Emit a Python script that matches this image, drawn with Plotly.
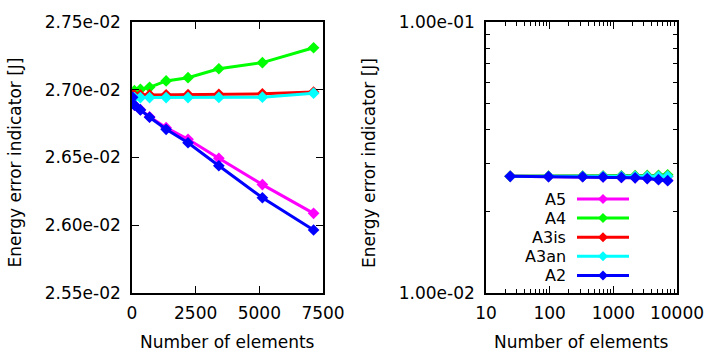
import plotly.graph_objects as go

# ---- data ----
n_elements = [24, 96, 330, 690, 1340, 2200, 3410, 5120, 7130]
series_names = ["A5", "A4", "A3is", "A3an", "A2"]
A5 = [0.026945, 0.026886, 0.026853, 0.026800, 0.026720, 0.026634, 0.026494, 0.026300, 0.026088]
A4 = [0.026965, 0.026993, 0.027003, 0.027018, 0.027065, 0.027089, 0.027155, 0.027200, 0.027310]
A3is = [0.026958, 0.026960, 0.026961, 0.026962, 0.026963, 0.026964, 0.026966, 0.026970, 0.026983]
A3an = [0.026942, 0.026942, 0.026942, 0.026942, 0.026942, 0.026942, 0.026943, 0.026945, 0.026975]
A2 = [0.026944, 0.026887, 0.026851, 0.026797, 0.026708, 0.026609, 0.026439, 0.026203, 0.025965]
series_values = [A5, A4, A3is, A3an, A2]
colors = ["#ff00ff", "#00ff00", "#ff0000", "#00ffff", "#0000ff"]

lin_yticks = [0.0255, 0.0260, 0.0265, 0.0270, 0.0275]
lin_yticktext = ["2.55e-02", "2.60e-02", "2.65e-02", "2.70e-02", "2.75e-02"]
lin_xticks = [0, 2500, 5000, 7500]
log_xticks = [10, 100, 1000, 10000]
log_xticktext = ["10", "100", "1000", "10000"]
log_x_minor = [20, 30, 40, 50, 60, 70, 80, 90, 200, 300, 400, 500, 600, 700, 800, 900,
               2000, 3000, 4000, 5000, 6000, 7000, 8000, 9000]
log_yticks = [0.01, 0.1]
log_yticktext = ["1.00e-02", "1.00e-01"]
log_y_minor = [0.02, 0.03, 0.04, 0.05, 0.06, 0.07, 0.08, 0.09]

W, H = 709, 355
FONT = "DejaVu Sans"
FS = 17


def px(x):
    return x / W


def py(y):
    return 1 - y / H


fig = go.Figure(layout=dict(template="none"))
for name, vals, col in zip(series_names, series_values, colors):
    for xa, ya in (("x", "y"), ("x2", "y2")):
        fig.add_trace(go.Scatter(
            x=n_elements, y=vals, mode="lines+markers", name=name,
            xaxis=xa, yaxis=ya, showlegend=False,
            line=dict(color=col, width=3),
            marker=dict(symbol="diamond", size=9, color=col),
        ))

axis_common = dict(
    showline=True, linecolor="black", linewidth=1.5, mirror="ticks",
    ticks="inside", ticklen=7, tickwidth=1, tickcolor="black",
    showgrid=False, zeroline=False, automargin=False,
    tickfont=dict(family=FONT, size=FS, color="black"),
)


def minor(vals):
    return dict(tickmode="array", tickvals=vals, ticks="inside", ticklen=4,
                tickwidth=1, tickcolor="black", showgrid=False)


ydom = [py(293), py(22)]
fig.update_layout(
    width=W, height=H, autosize=False,
    margin=dict(l=0, r=0, t=0, b=0, pad=0),
    paper_bgcolor="white", plot_bgcolor="white",
    font=dict(family=FONT, size=FS, color="black"),
    xaxis=dict(domain=[px(132), px(323)], range=[0, 7500], tickvals=lin_xticks,
               ticklabelstandoff=4, anchor="y", **axis_common),
    yaxis=dict(domain=ydom, range=[0.0255, 0.0275], tickvals=lin_yticks,
               ticktext=lin_yticktext, ticklabelstandoff=6, anchor="x", **axis_common),
    xaxis2=dict(domain=[px(486), px(677)], type="log", range=[1, 4],
                tickvals=log_xticks, ticktext=log_xticktext, ticklabelstandoff=4,
                minor=minor(log_x_minor), anchor="y2", **axis_common),
    yaxis2=dict(domain=ydom, type="log", range=[-2, -1],
                tickvals=log_yticks, ticktext=log_yticktext, ticklabelstandoff=6,
                minor=minor(log_y_minor), anchor="x2", **axis_common),
)

annotations = [
    dict(text="Number of elements", x=px(227.5), y=py(341.5), xref="paper", yref="paper",
         showarrow=False, xanchor="center", yanchor="middle", font=dict(family=FONT, size=FS)),
    dict(text="Number of elements", x=px(581.5), y=py(341.5), xref="paper", yref="paper",
         showarrow=False, xanchor="center", yanchor="middle", font=dict(family=FONT, size=FS)),
    dict(text="Energy error indicator [J]", x=px(14.5), y=py(163), xref="paper", yref="paper",
         showarrow=False, textangle=-90, xanchor="center", yanchor="middle",
         font=dict(family=FONT, size=FS)),
    dict(text="Energy error indicator [J]", x=px(369), y=py(163), xref="paper", yref="paper",
         showarrow=False, textangle=-90, xanchor="center", yanchor="middle",
         font=dict(family=FONT, size=FS)),
]

shapes = []
row_y = [199, 218.1, 237.2, 256.3, 275.4]
for name, col, ry in zip(series_names, colors, row_y):
    annotations.append(dict(text=name, x=px(567), y=py(ry), xref="paper", yref="paper",
                            showarrow=False, xanchor="right", yanchor="middle",
                            borderpad=0, font=dict(family=FONT, size=16)))
    shapes.append(dict(type="line", xref="paper", yref="paper", x0=px(577), x1=px(629),
                       y0=py(ry), y1=py(ry), line=dict(color=col, width=3)))
    shapes.append(dict(type="path", xref="paper", yref="paper", xsizemode="pixel",
                       ysizemode="pixel", xanchor=px(603), yanchor=py(ry),
                       path="M -5 0 L 0 5 L 5 0 L 0 -5 Z", fillcolor=col,
                       line=dict(color=col, width=0)))

fig.update_layout(annotations=annotations, shapes=shapes)
fig.write_html("out.html")
